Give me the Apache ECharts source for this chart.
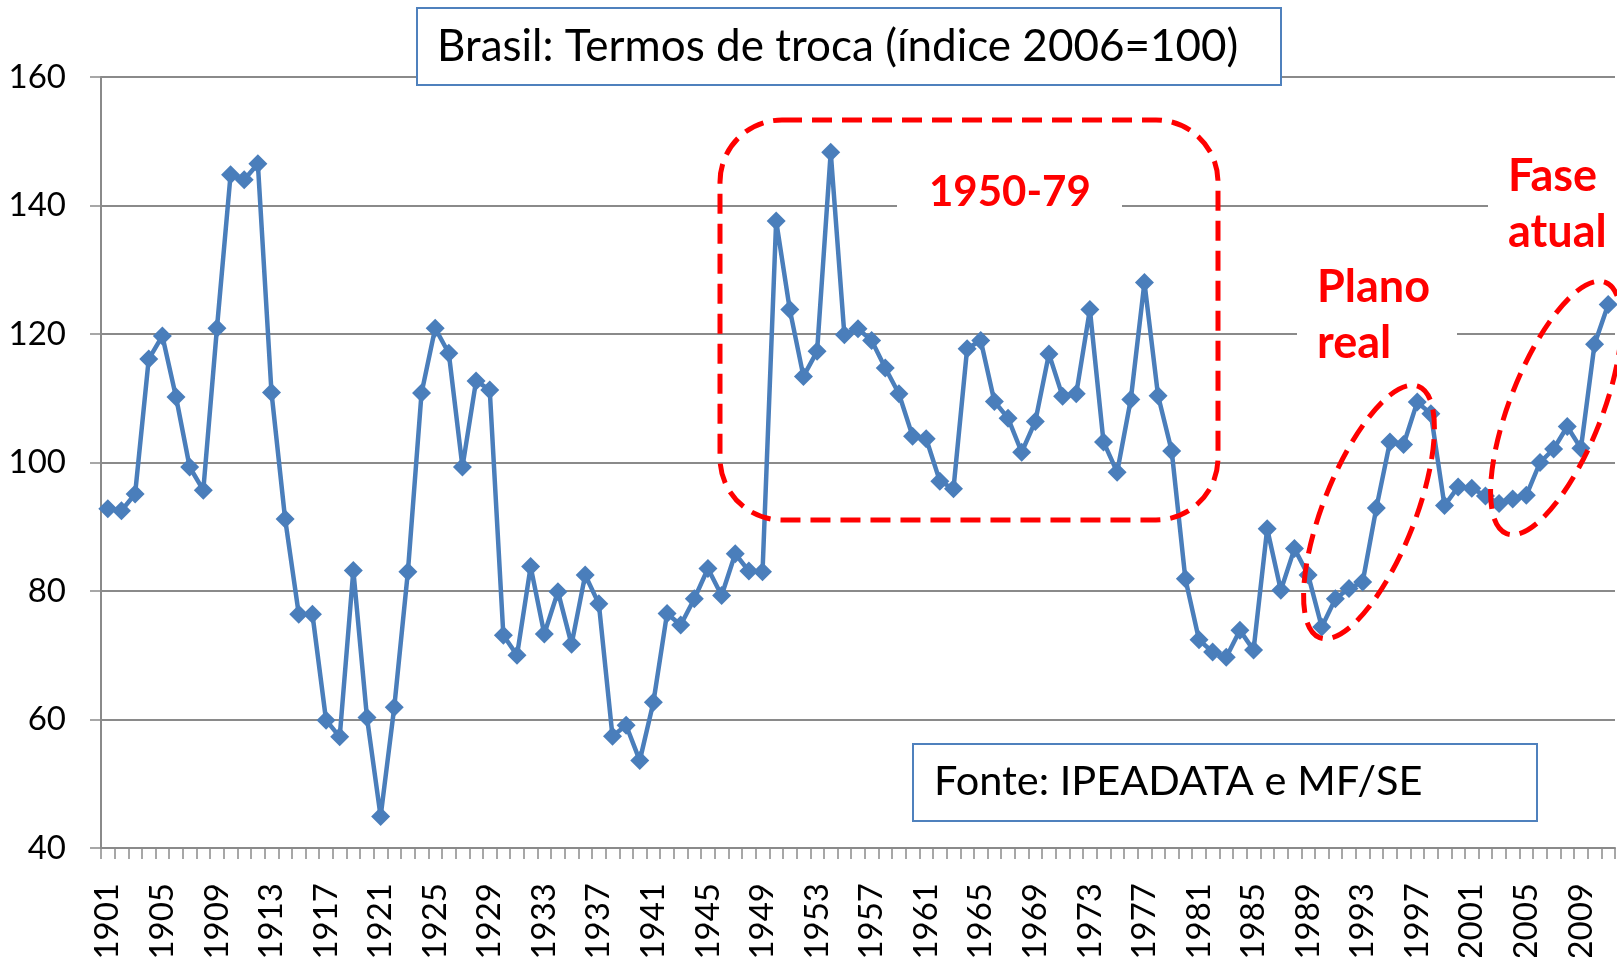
<!DOCTYPE html>
<html>
<head>
<meta charset="utf-8">
<script src="https://cdn.jsdelivr.net/npm/echarts@6/dist/echarts.min.js"></script>
<style>
html,body{margin:0;padding:0;background:#fff;}
#chart{width:1617px;height:957px;}
</style>
</head>
<body>
<div id="chart"></div>
<script>
const years = ['1901','1902','1903','1904','1905','1906','1907','1908','1909','1910',
'1911','1912','1913','1914','1915','1916','1917','1918','1919','1920',
'1921','1922','1923','1924','1925','1926','1927','1928','1929','1930',
'1931','1932','1933','1934','1935','1936','1937','1938','1939','1940',
'1941','1942','1943','1944','1945','1946','1947','1948','1949','1950',
'1951','1952','1953','1954','1955','1956','1957','1958','1959','1960',
'1961','1962','1963','1964','1965','1966','1967','1968','1969','1970',
'1971','1972','1973','1974','1975','1976','1977','1978','1979','1980',
'1981','1982','1983','1984','1985','1986','1987','1988','1989','1990',
'1991','1992','1993','1994','1995','1996','1997','1998','1999','2000',
'2001','2002','2003','2004','2005','2006','2007','2008','2009','2010','2011'];

const values1901_1949 = [92.8,92.5,95.1,116.1,119.7,110.2,99.3,95.7,120.9,144.8,
144.0,146.5,110.9,91.2,76.4,76.4,59.9,57.3,83.2,60.3,
44.9,61.9,83.0,110.8,120.9,117.0,99.3,112.7,111.3,73.1,
70.0,83.8,73.3,79.9,71.7,82.5,78.0,57.4,59.1,53.6,
62.7,76.5,74.7,78.8,83.5,79.3,85.8,83.1,83.0];
const values1950_1979 = [137.6,123.8,113.4,117.3,148.3,119.9,120.8,119.0,114.7,110.7,
104.1,103.7,97.1,95.9,117.7,119.0,109.5,106.9,101.6,106.4,
116.9,110.3,110.7,123.8,103.2,98.5,109.8,128.0,110.4,101.8];
const values1980_2011 = [81.9,72.4,70.5,69.7,73.9,70.8,89.7,80.1,86.6,82.5,
74.4,78.8,80.4,81.4,92.9,103.2,102.8,109.4,107.6,93.3,
96.2,96.0,94.8,93.6,94.3,94.9,100.0,102.1,105.6,102.2,118.4,124.6];
const yTicks = {min:40, max:160, step:20};

const titleText = 'Brasil: Termos de troca (índice 2006=100)';
const sourceText = 'Fonte: IPEADATA e MF/SE';
const notes = ['1950-79','Plano','real','Fase','atual'];

const values = values1901_1949.concat(values1950_1979, values1980_2011);

const GRAY = '#8A8A8A';
const BLUE = '#4A7EBB';
const RED = '#FF0000';
const deg = Math.PI/180;

const chart = echarts.init(document.getElementById('chart'), null, {renderer:'canvas'});
chart.setOption({
  animation:false,
  backgroundColor:'#fff',
  grid:{left:101, right:2, top:77, bottom:109, containLabel:false, outerBoundsMode:'none'},
  xAxis:{
    type:'category', data:years, boundaryGap:true,
    axisLine:{show:true, lineStyle:{color:GRAY, width:2}},
    axisTick:{show:true, interval:0, length:11, lineStyle:{color:GRAY, width:1.5}},
    axisLabel:{interval:3, rotate:90, margin:35, color:'#000',
      fontFamily:'Lato', fontSize:33},
    splitLine:{show:false}
  },
  yAxis:{
    type:'value', min:yTicks.min, max:yTicks.max, interval:yTicks.step,
    axisLine:{show:true, lineStyle:{color:GRAY, width:2}},
    axisTick:{show:true, length:11, lineStyle:{color:GRAY, width:1.5}},
    axisLabel:{margin:35, color:'#000', fontFamily:'Lato', fontSize:33},
    splitLine:{show:true, lineStyle:{color:GRAY, width:2}}
  },
  series:[{
    type:'line', data:values, symbol:'diamond', symbolSize:19,
    showAllSymbol:true,
    lineStyle:{color:BLUE, width:4.5},
    itemStyle:{color:BLUE},
    z:2
  }],
  graphic:{elements:[
    {type:'rect', z:100, shape:{x:417, y:8, width:864, height:77},
      style:{fill:'#fff', stroke:'#4F81BD', lineWidth:2}},
    {type:'text', z:101, style:{text:titleText, x:437, y:47, fill:'#000',
      font:'44px Lato', textAlign:'left', textVerticalAlign:'middle'}},
    {type:'rect', z:100, shape:{x:913, y:744, width:624, height:77},
      style:{fill:'#fff', stroke:'#4F81BD', lineWidth:2}},
    {type:'text', z:101, style:{text:sourceText, x:934, y:782, fill:'#000',
      font:'41.5px Lato', textAlign:'left', textVerticalAlign:'middle'}},

    {type:'rect', z:100, shape:{x:897, y:160, width:225, height:62},
      style:{fill:'#fff'}},
    {type:'text', z:101, style:{text:notes[0], x:929, y:192, fill:RED,
      font:'bold 42px Lato', textAlign:'left', textVerticalAlign:'middle'}},
    {type:'rect', z:100, shape:{x:1297, y:262, width:160, height:106},
      style:{fill:'#fff'}},
    {type:'text', z:101, style:{text:notes[1], x:1317, y:287, fill:RED,
      font:'bold 45px Lato', textAlign:'left', textVerticalAlign:'middle'}},
    {type:'text', z:101, style:{text:notes[2], x:1317, y:343, fill:RED,
      font:'bold 45px Lato', textAlign:'left', textVerticalAlign:'middle'}},
    {type:'rect', z:100, shape:{x:1488, y:150, width:140, height:110},
      style:{fill:'#fff'}},
    {type:'text', z:101, style:{text:notes[3], x:1508, y:176, fill:RED,
      font:'bold 45px Lato', textAlign:'left', textVerticalAlign:'middle'}},
    {type:'text', z:101, style:{text:notes[4], x:1508, y:232, fill:RED,
      font:'bold 45px Lato', textAlign:'left', textVerticalAlign:'middle'}},

    {type:'rect', z:102, shape:{x:720, y:120, width:498, height:400, r:62},
      style:{fill:null, stroke:RED, lineWidth:5, lineDash:[20,10]}},
    {type:'ellipse', z:102, x:1369, y:512, rotation:68.5*deg,
      shape:{cx:0, cy:0, rx:135, ry:46},
      style:{fill:null, stroke:RED, lineWidth:5, lineDash:[20,10]}},
    {type:'ellipse', z:102, x:1556, y:408, rotation:68.5*deg,
      shape:{cx:0, cy:0, rx:135, ry:46},
      style:{fill:null, stroke:RED, lineWidth:5, lineDash:[20,10]}}
  ]}
});
</script>
</body>
</html>
